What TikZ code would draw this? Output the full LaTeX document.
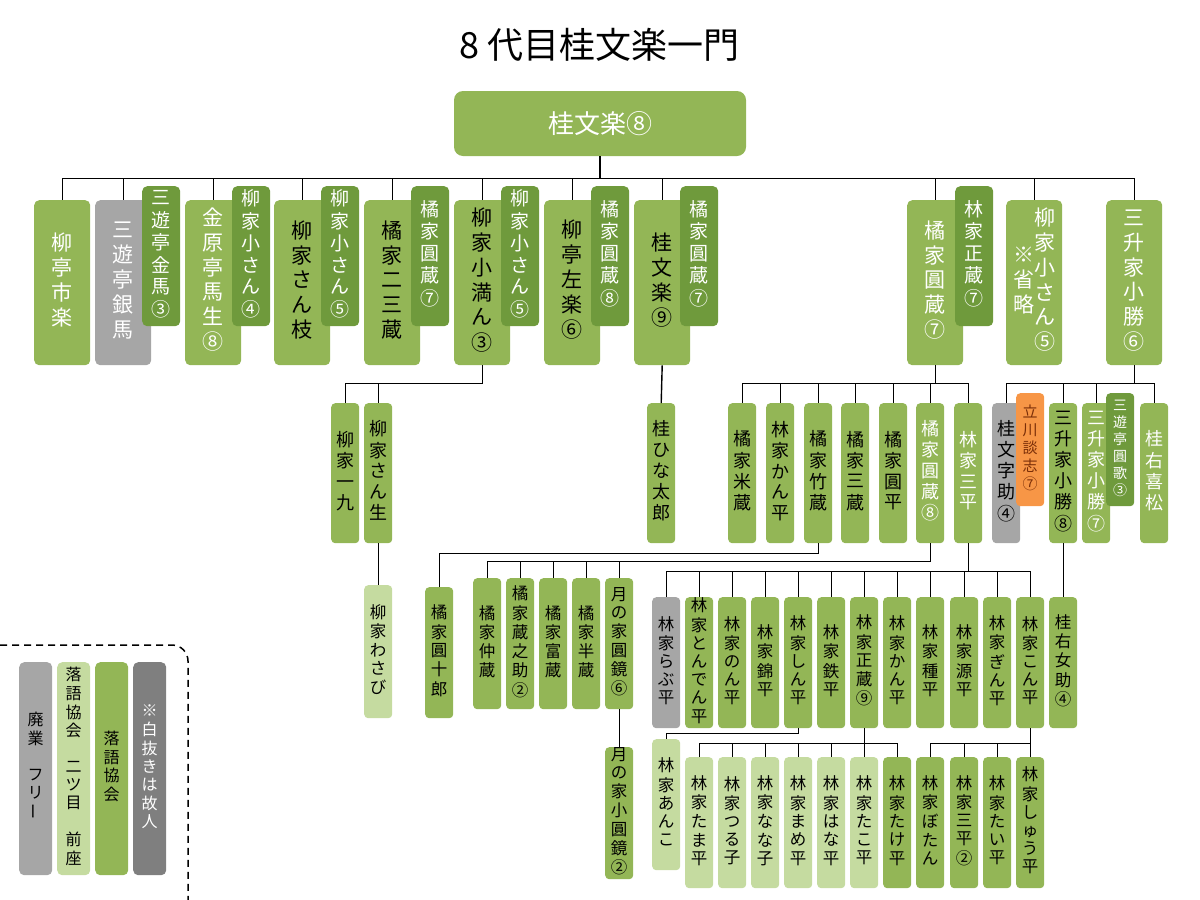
\documentclass[tikz,border=0pt]{standalone}
\usepackage{fontspec}
\usepackage{graphicx}
\setmainfont{Noto Sans CJK JP}
\usetikzlibrary{calc}

\definecolor{cg}{HTML}{93B656}
\definecolor{ctab}{HTML}{6F9A3C}
\definecolor{cl}{HTML}{C5DBA0}
\definecolor{cgr}{HTML}{A6A6A6}
\definecolor{cdk}{HTML}{7F7F7F}
\definecolor{cor}{HTML}{F79646}
\definecolor{corx}{HTML}{7A2E08}

% vertical text: one character per row
\ExplSyntaxOn
\cs_new_protected:Npn \vt_build:n #1
  {
    \tl_set:Nn \l_tmpa_tl {}
    \tl_map_inline:nn {#1}
      {
        \tl_if_empty:NF \l_tmpa_tl { \tl_put_right:Nn \l_tmpa_tl {\\} }
        \tl_put_right:Nn \l_tmpa_tl {##1}
      }
    \begin{tabular}{@{}c@{}} \tl_use:N \l_tmpa_tl \end{tabular}
  }
\NewDocumentCommand \vt {m} { \exp_args:No \vt_build:n {#1} }
\ExplSyntaxOff

\tikzset{
  pbox/.style={rounded corners=5pt, inner sep=0pt, anchor=north west, fill=cg},
  big/.style={pbox, minimum width=56pt, minimum height=165pt, font=\fontsize{21}{24.5}\selectfont},
  tabb/.style={pbox, fill=ctab, text=white, minimum width=38pt, minimum height=140pt, font=\fontsize{19}{21.5}\selectfont},
  mid/.style={pbox, rounded corners=4pt, minimum width=28pt, minimum height=140pt, font=\fontsize{18}{20.5}\selectfont},
  sml/.style={pbox, rounded corners=4pt, minimum width=28pt, minimum height=131pt, font=\fontsize{16.5}{18}\selectfont},
  lgd/.style={pbox, minimum width=33pt, minimum height=213pt, font=\fontsize{16}{18}\selectfont},
  link/.style={line width=1.4pt}
}

\begin{document}
\begin{tikzpicture}[x=1pt, y=-1pt]
  \useasboundingbox (0,0) rectangle (1200,900);

  \node[font=\fontsize{36}{40}\selectfont] (title) at (600,45) {8 代目桂文楽一門};
  \node[pbox, anchor=center, rounded corners=9pt, minimum width=292pt, minimum height=65pt,
        text=white, font=\fontsize{26}{30}\selectfont] (root) at (600,123.5) {桂文楽⑧};

  % first generation
  \foreach \nm/\xx/\fc/\tc/\lbl in {r1a/34/cg/white/柳亭市楽, r1b/95/cgr/white/三遊亭銀馬,
      r1c/185/cg/white/金原亭馬生⑧, r1d/274/cg/black/柳家さん枝, r1e/364/cg/black/橘家二三蔵,
      r1f/454/cg/black/柳家小満ん③, r1g/544/cg/black/柳亭左楽⑥, r1h/634/cg/black/桂文楽⑨,
      r1i/907/cg/white/橘家圓蔵⑦, r1k/1106/cg/white/三升家小勝⑥}
    \node[big, fill=\fc, text=\tc] (\nm) at (\xx,200) {\vt{\lbl}};
  \node[big, text=white] (r1j) at (1006,200) {\vt{※省略}\vt{柳家小さん⑤}};

  \draw[link] (root.south) -- ++(0,22) coordinate (bus);
  \draw[link] (r1a.north |- bus) -- (r1k.north |- bus);
  \foreach \nm in {r1a,r1b,r1c,r1d,r1e,r1f,r1g,r1h,r1i,r1j,r1k}
    \draw[link] (\nm.north |- bus) -- (\nm.north);

  % masters after transfer
  \foreach \nm/\xx/\lbl in {t1b/142/三遊亭金馬③, t1c/232/柳家小さん④, t1d/321/柳家小さん⑤,
      t1e/411/橘家圓蔵⑦, t1f/501/柳家小さん⑤, t1g/591/橘家圓蔵⑧, t1h/680/橘家圓蔵⑦, t1i/955/林家正蔵⑦}
    \node[tabb] (\nm) at (\xx,186) {\vt{\lbl}};

  % second generation
  \foreach \nm/\xx/\lbl in {s1/331/柳家一九, s2/364/柳家さん生}{
    \node[mid] (\nm) at (\xx,403) {\vt{\lbl}};
    \draw[link] (r1f.south) -- ++(0,18) -| (\nm.north);
  }
  \node[mid] (hina) at (647,403) {\vt{桂ひな太郎}};
  \draw[link] (r1h.south) -- (hina.north);

  \foreach \nm/\xx/\tc/\lbl in {e1/728/black/橘家米蔵, e2/766/black/林家かん平, e3/804/black/橘家竹蔵,
      e4/841/black/橘家三蔵, e5/879/black/橘家圓平, e6/916/white/橘家圓蔵⑧, e7/954/white/林家三平}{
    \node[mid, text=\tc] (\nm) at (\xx,403) {\vt{\lbl}};
    \draw[link] (r1i.south) -- ++(0,18) -| (\nm.north);
  }

  \foreach \nm/\xx/\fc/\tc/\lbl in {k1/992/cgr/black/桂文字助④, k2/1049/cg/black/三升家小勝⑧,
      k3/1082/cg/white/三升家小勝⑦, k4/1140/cg/white/桂右喜松}{
    \node[mid, fill=\fc, text=\tc] (\nm) at (\xx,403) {\vt{\lbl}};
    \draw[link] (r1k.south) -- ++(0,18) -| (\nm.north);
  }
  \node[pbox, fill=cor, text=corx, rounded corners=4pt, minimum width=28pt, minimum height=113pt,
        font=\fontsize{15}{18}\selectfont] (danshi) at (1016,393) {\vt{立川談志⑦}};
  \node[pbox, fill=ctab, text=white, rounded corners=4pt, minimum width=28pt, minimum height=113pt,
        font=\fontsize{14}{17}\selectfont] (enka) at (1106,393) {\vt{三遊亭圓歌③}};

  % third generation
  \node[sml, fill=cl, minimum height=133pt] (wasabi) at (364,585) {\vt{柳家わさび}};
  \draw[link] (s2.south) -- (wasabi.north);
  \node[sml] (g1) at (425,587) {\vt{橘家圓十郎}};
  \draw[link] (e3.south) -- ++(0,10) -| (g1.north);

  \foreach \nm/\xx/\lbl in {n1/473/橘家仲蔵, n2/506/橘家蔵之助②, n3/539/橘家富蔵,
      n4/572/橘家半蔵, n5/605/月の家圓鏡⑥}{
    \node[sml] (\nm) at (\xx,578) {\vt{\lbl}};
    \draw[link] (e6.south) -- ++(0,18) -| (\nm.north);
  }
  \node[sml, minimum height=132pt] (m1) at (605,747) {\vt{月の家小圓鏡②}};
  \draw[link] (n5.south) -- (m1.north);

  \foreach \nm/\xx/\fc/\lbl in {h1/652/cgr/林家らぶ平, h2/685/cg/林家とんでん平, h3/718/cg/林家のん平,
      h4/751/cg/林家錦平, h5/784/cg/林家しん平, h6/817/cg/林家鉄平, h7/850/cg/林家正蔵⑨,
      h8/883/cg/林家かん平, h9/916/cg/林家種平, h10/950/cg/林家源平, h11/983/cg/林家ぎん平,
      h12/1016/cg/林家こん平}{
    \node[sml, fill=\fc] (\nm) at (\xx,597) {\vt{\lbl}};
    \draw[link] (e7.south) -- ++(0,28) -| (\nm.north);
  }
  \node[sml] (ujo) at (1049,597) {\vt{桂右女助④}};
  \draw[link] (k2.south) -- (ujo.north);

  % fourth generation
  \node[sml, fill=cl] (anko) at (652,739) {\vt{林家あんこ}};
  \draw[link] (h5.south) -- ++(0,5) -| (anko.north);

  \foreach \nm/\xx/\fc/\lbl in {p1/685/cl/林家たま平, p2/718/cl/林家つる子, p3/751/cl/林家なな子,
      p4/784/cl/林家まめ平, p5/817/cl/林家はな平, p6/850/cl/林家たこ平, p7/883/cg/林家たけ平}{
    \node[sml, fill=\fc] (\nm) at (\xx,757) {\vt{\lbl}};
    \draw[link] (h7.south) -- ++(0,15) -| (\nm.north);
  }
  \foreach \nm/\xx/\lbl in {q1/916/林家ぼたん, q2/950/林家三平②, q3/983/林家たい平, q4/1016/林家しゅう平}{
    \node[sml] (\nm) at (\xx,757) {\vt{\lbl}};
    \draw[link] (h12.south) -- ++(0,15) -| (\nm.north);
  }

  % legend
  \draw[line width=1.5pt, dash pattern=on 7pt off 5pt, rounded corners=16pt] (0,645) -| (188,900);
  \node[lgd, fill=cgr] (lg1) at (19,662) {\vt{廃業　フリ{\rotatebox{90}{ー}}}};
  \node[lgd, fill=cl] (lg2) at (57,662) {\vt{落語協会　二ツ目　前座}};
  \node[lgd] (lg3) at (95,662) {\vt{落語協会}};
  \node[lgd, fill=cdk, text=white] (lg4) at (133,662) {\vt{※白抜きは故人}};
\end{tikzpicture}
\end{document}
